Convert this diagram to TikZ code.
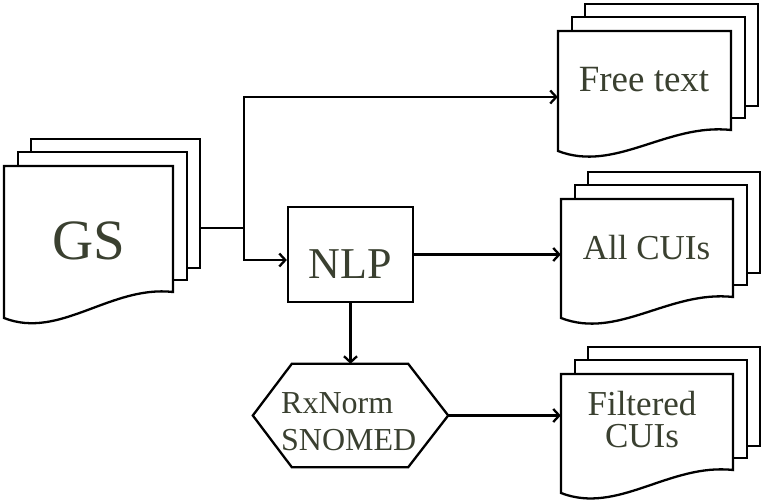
\documentclass[tikz,border=0pt]{standalone}
\usepackage{fontspec}
\setmainfont{Liberation Serif}
\usetikzlibrary{arrows.meta,fit}
\definecolor{ink}{RGB}{58,64,48}
\tikzset{
  sheet/.style={draw=black, fill=white, line width=2.3pt, line join=miter},
  flow/.style={draw=black, line width=2.3pt,
    -{Straight Barb[length=6pt,width=13pt,line width=2.3pt]}},
  lbl/.style={text=ink, inner sep=0pt, anchor=base},
  sheetarea/.style={inner sep=0pt, draw=none},
}
% a stack of three documents: #1 name, #2 left, #3 top, #4 right,
% #5 bottom of the right edge, #6 bottom of the left edge (front sheet)
\newcommand{\docstack}[6]{%
  \path[sheet] (#2+27,#3-27) rectangle (#4+27,#5-24);
  \path[sheet] (#2+14,#3-14) rectangle (#4+14,#5-12);
  \path[sheet] (#2,#3) -- (#4,#3) -- (#4,#5)
    .. controls ({#2+0.63*(#4-#2)},{#5-7}) and ({#2+0.33*(#4-#2)},{#6+22})
    .. (#2,#6) -- cycle;
  \node[sheetarea, fit={(#2,#3) (#4,#5)}] (#1) {};
}

\begin{document}
\begin{tikzpicture}[x=1pt,y=-1pt]
\useasboundingbox (0,0) rectangle (763,502);

% document stacks
\docstack{gs}{4}{166}{173}{292}{318}
\docstack{free}{558}{31}{731}{130}{151}
\docstack{all}{561}{199}{733}{297}{318}
\docstack{filt}{561}{374}{733}{470}{493}

\node[lbl, font=\fontsize{57}{60}\selectfont] (gstxt) at (88.5,260) {GS};
\node[lbl, font=\fontsize{37}{40}\selectfont] (freetxt) at (644,92) {Free text};
\node[lbl, font=\fontsize{35}{40}\selectfont] (alltxt) at (646.5,260) {All CUIs};
\node[lbl, font=\fontsize{35}{32}\selectfont, align=center] (filttxt) at (642,447) {Filtered\\CUIs};

% processing step
\node[draw=black, line width=2.3pt, minimum width=125pt, minimum height=95pt,
      inner sep=0pt, text height=48pt, text depth=0pt, text=ink,
      font=\fontsize{44}{48}\selectfont] (nlp) at (350.5,254.5) {NLP};

% terminology filter (hexagon)
\node[sheetarea, minimum width=195pt, minimum height=103pt] (kb) at (350.5,415.5) {};
\draw[line width=2.3pt, line join=miter]
  (kb.west) -- ([xshift=39pt]kb.north west) -- ([xshift=-40pt]kb.north east)
  -- (kb.east) -- ([xshift=-40pt]kb.south east) -- ([xshift=39pt]kb.south west) -- cycle;
\node[lbl, anchor=base west, align=left, font=\fontsize{32}{37}\selectfont] (kbtxt)
  at (281,450) {RxNorm\\SNOMED};

% connectors
\coordinate (gsout) at (200,228);
\coordinate (split) at (244,228);
\draw[line width=2.3pt] (gsout) -- (split);
\draw[flow] (split) |- ([yshift=-16.5pt]free.west);
\draw[flow] (split) |- ([yshift=-5.5pt]nlp.west);
\draw[flow] (nlp.east) -- (nlp.east -| all.west);
\draw[flow] (nlp.south) -- (kb.north);
\draw[flow] (kb.east) -- (kb.east -| filt.west);
\end{tikzpicture}
\end{document}
